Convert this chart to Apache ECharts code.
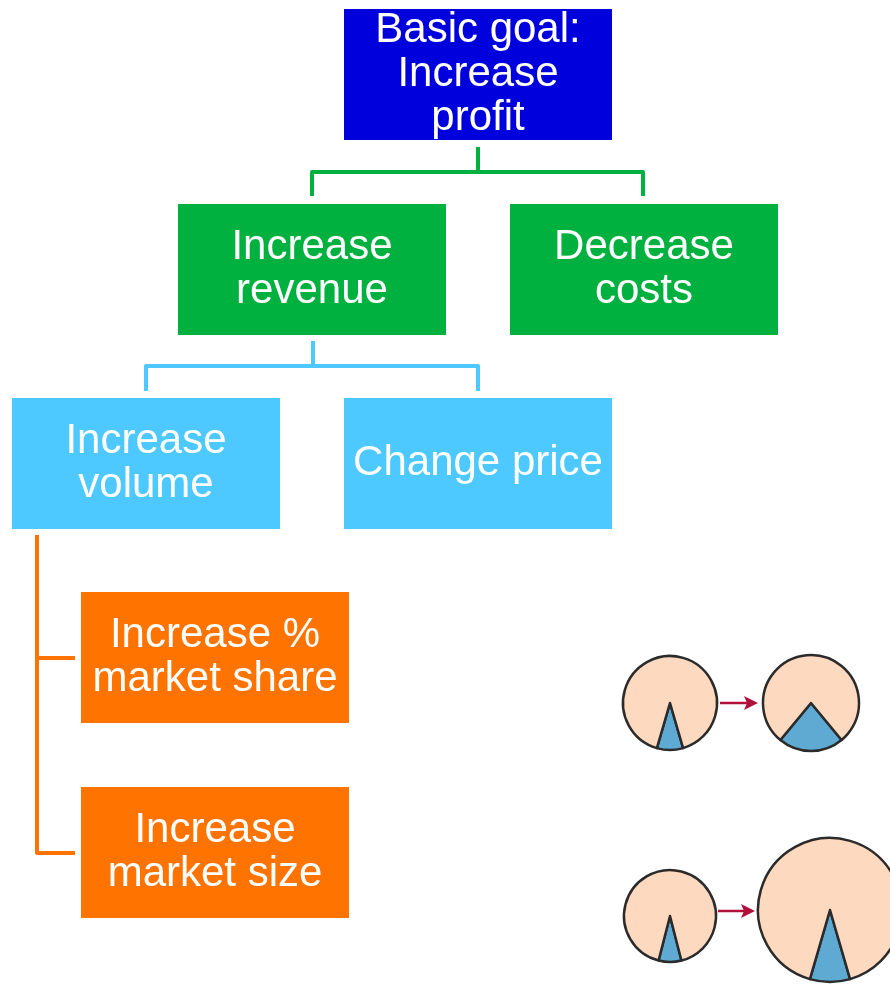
<!DOCTYPE html>
<html>
<head>
<meta charset="utf-8">
<script src="https://cdn.jsdelivr.net/npm/echarts@6/dist/echarts.min.js"></script>
<style>
  html, body { margin: 0; padding: 0; background: #fff; }
  #chart { width: 890px; height: 987px; }
</style>
</head>
<body>
<div id="chart"></div>
<script>
// data
var nodeLabels = [
  'Basic goal:\nIncrease\nprofit',
  'Increase\nrevenue',
  'Decrease\ncosts',
  'Increase\nvolume',
  'Change price',
  'Increase %\nmarket share',
  'Increase\nmarket size'
];
var nodeLevels = [0, 1, 1, 2, 2, 3, 3];
// share of the blue wedge in each small pie (before -> after)
var pieWedge = [9, 22, 8, 9];

// layout
var levelColors = ['#0000dd', '#00b140', '#4dc9ff', '#ff7300'];
var boxPos = [[344, 9], [178, 204], [510, 204], [12, 398], [344, 398], [81, 592], [81, 787]];
var boxW = 268, boxH = 131;
var links = [
  { color: '#00b140', pts: [[478, 147], [478, 172]] },
  { color: '#00b140', pts: [[312, 196], [312, 172], [643, 172], [643, 196]] },
  { color: '#4dc9ff', pts: [[313, 341], [313, 366]] },
  { color: '#4dc9ff', pts: [[146, 391], [146, 366], [478, 366], [478, 391]] },
  { color: '#ff7300', pts: [[37, 535], [37, 853], [75, 853]] },
  { color: '#ff7300', pts: [[37, 658], [75, 658]] }
];
var pieCenter = [[670, 703], [811, 703], [670, 916], [830, 910]];
var pieRadius = [47, 48, 46, 72];
var arrows = [[720, 758, 703], [718, 755, 911]];

var myChart = echarts.init(document.getElementById('chart'));

var graphics = [];
nodeLabels.forEach(function (txt, i) {
  graphics.push({
    type: 'rect',
    shape: { x: boxPos[i][0], y: boxPos[i][1], width: boxW, height: boxH },
    style: { fill: levelColors[nodeLevels[i]] },
    textContent: {
      style: {
        text: txt,
        fill: '#fff',
        font: '42px "Liberation Sans", Arial, sans-serif',
        lineHeight: 44,
        align: 'center'
      }
    },
    textConfig: { position: 'inside' }
  });
});
links.forEach(function (l) {
  graphics.push({
    type: 'polyline',
    shape: { points: l.pts },
    style: { stroke: l.color, lineWidth: 4, fill: null, lineJoin: 'round' }
  });
});
arrows.forEach(function (a) {
  graphics.push({
    type: 'line',
    shape: { x1: a[0], y1: a[2], x2: a[1] - 10, y2: a[2] },
    style: { stroke: '#b0103a', lineWidth: 2.5 }
  });
  graphics.push({
    type: 'polygon',
    shape: { points: [[a[1] - 14, a[2] - 7], [a[1], a[2]], [a[1] - 14, a[2] + 7], [a[1] - 11, a[2]]] },
    style: { fill: '#b0103a' }
  });
});

var series = pieWedge.map(function (w, i) {
  return {
    type: 'pie',
    silent: true,
    center: pieCenter[i],
    radius: pieRadius[i],
    startAngle: 270 + w * 3.6 / 2,
    clockwise: true,
    label: { show: false },
    labelLine: { show: false },
    itemStyle: { borderColor: '#2b2b2b', borderWidth: 2.5 },
    data: [
      { value: w, itemStyle: { color: '#5eaad3' } },
      { value: 100 - w, itemStyle: { color: '#fdd9bf' } }
    ]
  };
});

myChart.setOption({
  animation: false,
  graphic: graphics,
  series: series
});
</script>
</body>
</html>
